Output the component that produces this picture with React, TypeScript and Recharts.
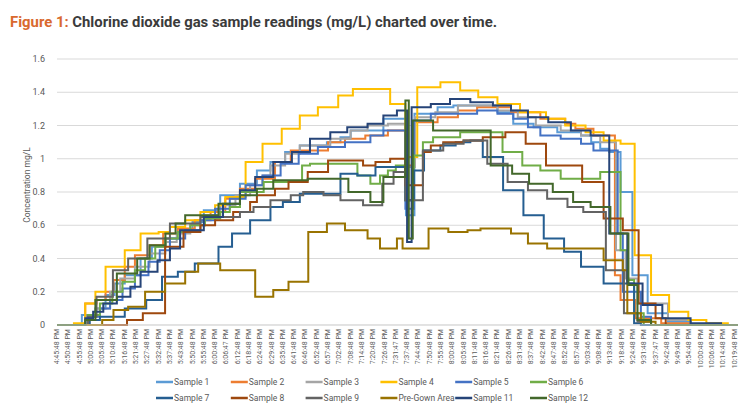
import React from 'react';
import { LineChart, Line, XAxis, YAxis, CartesianGrid } from 'recharts';

// x positions are in "tick units": 0 = first time label, 60 = last one
const timeLabels = [
  '4:45:48 PM', '4:50:48 PM', '4:55:48 PM', '5:00:48 PM', '5:05:48 PM', '5:10:48 PM',
  '5:16:48 PM', '5:21:48 PM', '5:27:48 PM', '5:32:48 PM', '5:37:48 PM', '5:43:48 PM',
  '5:50:48 PM', '5:55:48 PM', '6:00:48 PM', '6:06:47 PM', '6:12:48 PM', '6:18:48 PM',
  '6:24:48 PM', '6:29:48 PM', '6:35:48 PM', '6:41:48 PM', '6:46:48 PM', '6:52:48 PM',
  '6:57:48 PM', '7:02:48 PM', '7:08:48 PM', '7:14:48 PM', '7:20:48 PM', '7:26:48 PM',
  '7:31:47 PM', '7:37:48 PM', '7:44:48 PM', '7:50:48 PM', '7:55:48 PM', '8:00:48 PM',
  '8:05:48 PM', '8:11:48 PM', '8:16:48 PM', '8:21:48 PM', '8:26:48 PM', '8:31:48 PM',
  '8:37:48 PM', '8:42:48 PM', '8:47:48 PM', '8:52:48 PM', '8:57:48 PM', '9:03:46 PM',
  '9:08:48 PM', '9:13:48 PM', '9:18:48 PM', '9:24:48 PM', '9:31:48 PM', '9:37:47 PM',
  '9:42:48 PM', '9:49:48 PM', '9:54:48 PM', '10:00:48 PM', '10:06:48 PM', '10:14:48 PM',
  '10:19:48 PM',
];
const xTicks = timeLabels.map((_, i) => i);
const yTicks = [0, 0.2, 0.4, 0.6, 0.8, 1, 1.2, 1.4, 1.6];

// [position, reading] pairs, each reading holds until the next pair
const sample1 = [[0,0],[2.2,0.06],[3.4,0.1],[4.3,0.18],[5.1,0.25],[6.0,0.3],[7.4,0.4],[8.4,0.47],[9.6,0.52],[10.9,0.57],[12.0,0.62],[13.0,0.69],[14.45,0.78],[16.2,0.85],[17.7,0.93],[18.9,0.98],[20.2,1.04],[21.5,1.08],[23.9,1.1],[25.1,1.13],[26.0,1.17],[28.9,1.24],[30.9,0.66],[31.65,1.27],[33.7,1.31],[35.1,1.32],[39.0,1.28],[40.4,1.21],[42.2,1.19],[44.3,1.16],[46.4,1.14],[47.3,1.1],[48.1,1.06],[48.9,1.04],[49.9,0.8],[50.95,0.3],[52.3,0.07],[54.1,0.02],[56.1,0],[60.3,0]];
const sample2 = [[0,0],[2.5,0.13],[3.5,0.15],[4.3,0.2],[5.0,0.27],[6.0,0.35],[6.9,0.42],[8.2,0.48],[9.4,0.55],[10.7,0.58],[12.2,0.63],[13.6,0.68],[14.9,0.76],[16.2,0.82],[17.55,0.88],[19.3,0.98],[20.7,1.05],[24.0,1.1],[25.5,1.12],[27.3,1.14],[29.3,1.17],[30.85,0.96],[31.7,1.22],[33.7,1.25],[35.5,1.29],[37.2,1.31],[40.2,1.28],[42.8,1.24],[45.0,1.21],[45.9,1.18],[47.5,1.14],[49.4,0.3],[49.9,0.15],[51.2,0.04],[53.5,0.01],[56.1,0],[60.3,0]];
const sample3 = [[0,0],[2.5,0.05],[3.4,0.1],[4.7,0.2],[5.6,0.28],[6.9,0.35],[8.2,0.43],[9.6,0.5],[10.6,0.55],[11.8,0.6],[13.1,0.66],[14.45,0.72],[15.8,0.78],[17.1,0.84],[18.2,0.9],[18.9,0.96],[20.2,1.03],[21.5,1.08],[24.2,1.12],[26.0,1.17],[27.5,1.2],[29.3,1.21],[30.85,0.95],[31.7,1.25],[33.5,1.28],[35.5,1.32],[39.0,1.29],[40.8,1.25],[42.4,1.2],[44.6,1.17],[46.4,1.14],[48.1,1.1],[49.5,0.45],[50.35,0.28],[51.4,0.13],[54.1,0.03],[56.1,0],[60.3,0]];
const sample4 = [[0,0],[1.5,0.01],[2.5,0.13],[3.4,0.2],[4.3,0.35],[6.0,0.45],[7.4,0.55],[9.0,0.56],[10.0,0.59],[11.35,0.63],[12.7,0.68],[14.0,0.72],[14.9,0.77],[16.7,0.98],[18.2,1.09],[19.9,1.18],[21.5,1.26],[23.1,1.31],[24.9,1.38],[26.2,1.42],[29.5,1.33],[30.85,1.01],[31.9,1.43],[33.95,1.46],[35.7,1.41],[37.3,1.37],[39.0,1.33],[41.0,1.28],[43.3,1.24],[45.0,1.2],[46.8,1.16],[48.4,1.11],[49.9,1.09],[51.15,0.42],[52.6,0.18],[54.2,0.08],[55.9,0.03],[57.5,0.01],[59.4,0],[60.3,0]];
const sample5 = [[0,0],[2.7,0.05],[3.8,0.1],[4.7,0.15],[5.8,0.22],[6.9,0.3],[8.1,0.38],[9.1,0.45],[10.0,0.52],[11.35,0.57],[12.7,0.63],[14.0,0.7],[15.3,0.76],[16.7,0.84],[18.2,0.9],[19.8,0.97],[21.4,1.03],[23.1,1.07],[25.5,1.1],[27.75,1.14],[28.9,1.17],[30.85,0.7],[31.6,1.23],[33.1,1.27],[37.2,1.29],[39.0,1.27],[40.4,1.24],[41.7,1.19],[42.8,1.14],[44.6,1.12],[46.4,1.09],[47.5,1.05],[49.65,0.55],[50.1,0.2],[51.7,0.05],[52.6,0],[60.3,0]];
const sample6 = [[0,0],[2.75,0.06],[3.8,0.13],[4.9,0.2],[5.8,0.26],[6.9,0.33],[7.8,0.4],[8.7,0.47],[9.6,0.52],[10.7,0.56],[11.8,0.6],[13.1,0.64],[14.45,0.68],[15.3,0.71],[16.2,0.8],[18.3,0.86],[21.7,0.96],[22.4,0.97],[26.6,0.9],[27.75,0.85],[28.6,0.9],[29.3,0.93],[30.0,0.96],[30.85,0.75],[31.6,1.02],[32.4,1.1],[33.3,1.13],[35.7,1.16],[39.45,1.04],[41.2,0.96],[42.8,0.93],[44.6,0.88],[48.1,0.92],[49.9,0.45],[50.5,0.27],[51.1,0.07],[51.95,0],[60.3,0]];
const sample7 = [[0,0],[2.9,0.03],[3.8,0.05],[6.0,0.1],[7.9,0.15],[9.3,0.29],[10.7,0.32],[12.2,0.37],[14.3,0.47],[15.5,0.55],[17.1,0.63],[18.9,0.71],[20.0,0.74],[21.5,0.79],[25.1,0.91],[26.6,0.9],[28.2,0.95],[30.85,0.75],[31.6,0.93],[32.5,1.05],[33.95,1.08],[35.3,1.1],[36.6,1.11],[37.7,1.01],[39.5,0.81],[41.3,0.66],[43.1,0.52],[44.9,0.44],[46.4,0.35],[48.4,0.25],[51.1,0.01],[51.7,0],[60.3,0]];
const sample8 = [[0,0],[6.2,0.03],[7.6,0.07],[9.57,0.47],[11.2,0.56],[12.7,0.6],[14.0,0.63],[15.6,0.68],[17.1,0.74],[17.7,0.78],[19.3,0.82],[20.5,0.86],[22.2,0.92],[24.0,0.99],[27.1,0.96],[28.2,0.98],[29.5,1.0],[30.85,0.84],[32.4,1.04],[33.1,1.08],[34.2,1.1],[36.0,1.11],[37.7,1.13],[39.7,1.16],[41.5,1.09],[43.3,0.96],[46.5,0.86],[48.4,0.64],[50.1,0.57],[51.5,0.13],[53.0,0.04],[53.9,0],[60.3,0]];
const sample9 = [[0,0],[2.75,0.05],[3.5,0.17],[4.95,0.33],[6.3,0.4],[8.0,0.52],[10.0,0.61],[12.7,0.65],[16.2,0.68],[17.4,0.71],[18.9,0.75],[20.7,0.78],[21.8,0.8],[23.6,0.78],[25.1,0.75],[27.1,0.72],[28.8,0.85],[29.8,0.92],[30.85,0.75],[32.4,1.05],[34.2,1.09],[36.0,1.11],[38.1,0.97],[39.9,0.86],[41.7,0.81],[43.4,0.76],[45.2,0.71],[46.6,0.68],[48.6,0.33],[50.2,0.07],[51.4,0.02],[52.6,0],[60.3,0]];
const preGown = [[0,0],[4.0,0.03],[5.0,0.09],[6.3,0.11],[7.8,0.2],[9.57,0.25],[11.35,0.32],[12.5,0.37],[14.45,0.33],[17.55,0.17],[19.15,0.21],[20.5,0.26],[22.25,0.56],[23.9,0.61],[25.5,0.57],[27.5,0.52],[28.6,0.46],[30.1,0.52],[30.6,0.46],[32.9,0.58],[34.65,0.56],[36.35,0.57],[37.5,0.58],[40.2,0.55],[41.7,0.49],[43.4,0.46],[48.4,0.39],[50.1,0.33],[50.5,0.07],[51.7,0.02],[53.0,0],[60.3,0]];
const sample11 = [[0,0],[2.5,0.04],[3.2,0.08],[4.1,0.13],[5.3,0.17],[6.5,0.23],[7.4,0.32],[8.9,0.39],[10.0,0.46],[10.9,0.57],[13.0,0.65],[14.7,0.73],[16.2,0.81],[17.55,0.89],[19.15,0.98],[20.8,1.04],[22.4,1.12],[24.2,1.16],[25.7,1.19],[27.5,1.21],[28.9,1.26],[30.1,1.29],[31.0,0.5],[31.4,1.31],[33.1,1.33],[34.8,1.36],[36.6,1.34],[38.6,1.32],[40.2,1.29],[41.7,1.25],[43.5,1.22],[45.5,1.17],[47.25,1.14],[48.9,0.55],[50.5,0.25],[51.85,0.12],[53.6,0.04],[56.1,0.01],[58.8,0],[60.3,0]];
const sample12 = [[0,0],[2.5,0.03],[3.4,0.15],[5.3,0.31],[7.1,0.4],[8.2,0.48],[9.6,0.55],[10.5,0.61],[11.35,0.66],[14.3,0.73],[16.2,0.78],[17.7,0.82],[19.15,0.87],[22.2,0.88],[25.8,0.8],[27.75,0.74],[28.9,0.89],[30.85,1.35],[31.15,0.52],[31.5,1.23],[33.3,1.17],[38.4,0.96],[40.3,0.91],[41.8,0.85],[43.9,0.8],[45.7,0.74],[47.25,0.71],[49.0,0.55],[50.6,0.24],[51.4,0.03],[52.6,0],[60.3,0]];

const seriesNames = ['Sample 1', 'Sample 2', 'Sample 3', 'Sample 4', 'Sample 5', 'Sample 6',
  'Sample 7', 'Sample 8', 'Sample 9', 'Pre-Gown Area', 'Sample 11', 'Sample 12'];
const seriesPoints = [sample1, sample2, sample3, sample4, sample5, sample6,
  sample7, sample8, sample9, preGown, sample11, sample12];
const seriesColors = ['#5B9BD5', '#ED7D31', '#A5A5A5', '#FFC000', '#4472C4', '#70AD47',
  '#255E91', '#9E480E', '#636363', '#997300', '#264478', '#43682B'];

const series = seriesNames.map((name, i) => ({
  name,
  color: seriesColors[i],
  data: seriesPoints[i].map(([x, y]) => ({ x, y })),
}));

const font = 'Roboto, "DejaVu Sans", sans-serif';

const TimeTick = (props: any) => {
  const { x, y, payload } = props;
  return (
    <text
      x={x}
      y={y}
      transform={`rotate(-90 ${x} ${y})`}
      textAnchor="end"
      dominantBaseline="central"
      fontSize={7}
      fill="#595959"
      fontFamily={font}
    >
      {timeLabels[payload.value]}
    </text>
  );
};

export default function App() {
  return (
    <div style={{ position: 'absolute', left: 0, top: 0, width: 750, height: 420, background: '#fff' }}>
      <svg width={750} height={420} style={{ position: 'absolute', left: 0, top: 0 }}>
        <text x={10} y={27} fontSize={15} fontWeight={700} fontFamily={font}
          textLength={487} lengthAdjust="spacingAndGlyphs">
          <tspan fill="#D9692E">Figure 1:</tspan>
          <tspan fill="#3B3B3B"> Chlorine dioxide gas sample readings (mg/L) charted over time.</tspan>
        </text>
        <text x={30} y={185} fontSize={8.5} fill="#595959" fontFamily={font}
          textAnchor="middle" transform="rotate(-90 30 185)">Concentration mg/L</text>
        {series.map((s, i) => {
          const col = i % 6;
          const row = Math.floor(i / 6);
          const lx = 156 + col * 74.8;
          const ly = 382 + row * 16;
          return (
            <g key={s.name}>
              <line x1={lx} x2={lx + 17} y1={ly} y2={ly} stroke={s.color} strokeWidth={2.5} />
              <text x={lx + 18} y={ly} dominantBaseline="central" fontSize={8.5} fill="#595959"
                fontFamily={font}>{s.name}</text>
            </g>
          );
        })}
      </svg>
      <div style={{ position: 'absolute', left: 0, top: 0 }}>
        <LineChart width={750} height={420} margin={{ top: 59, right: 12, bottom: 55, left: 27 }}>
          <CartesianGrid vertical={false} stroke="#D9D9D9" />
          <XAxis
            type="number"
            dataKey="x"
            domain={[0, 60.3]}
            allowDataOverflow
            ticks={xTicks}
            interval={0}
            tick={<TimeTick />}
            tickLine={false}
            tickSize={2}
            tickMargin={2}
            height={40}
            axisLine={{ stroke: '#D9D9D9' }}
          />
          <YAxis
            type="number"
            domain={[0, 1.6]}
            ticks={yTicks}
            interval={0}
            width={30}
            axisLine={false}
            tickLine={false}
            tickSize={6}
            tickMargin={6}
            tick={{ fontSize: 9, fill: '#595959', fontFamily: font }}
          />
          {series.map((s) => (
            <Line
              key={s.name}
              data={s.data}
              dataKey="y"
              name={s.name}
              type="stepAfter"
              stroke={s.color}
              strokeWidth={2}
              dot={false}
              activeDot={false}
              isAnimationActive={false}
            />
          ))}
        </LineChart>
      </div>
    </div>
  );
}
